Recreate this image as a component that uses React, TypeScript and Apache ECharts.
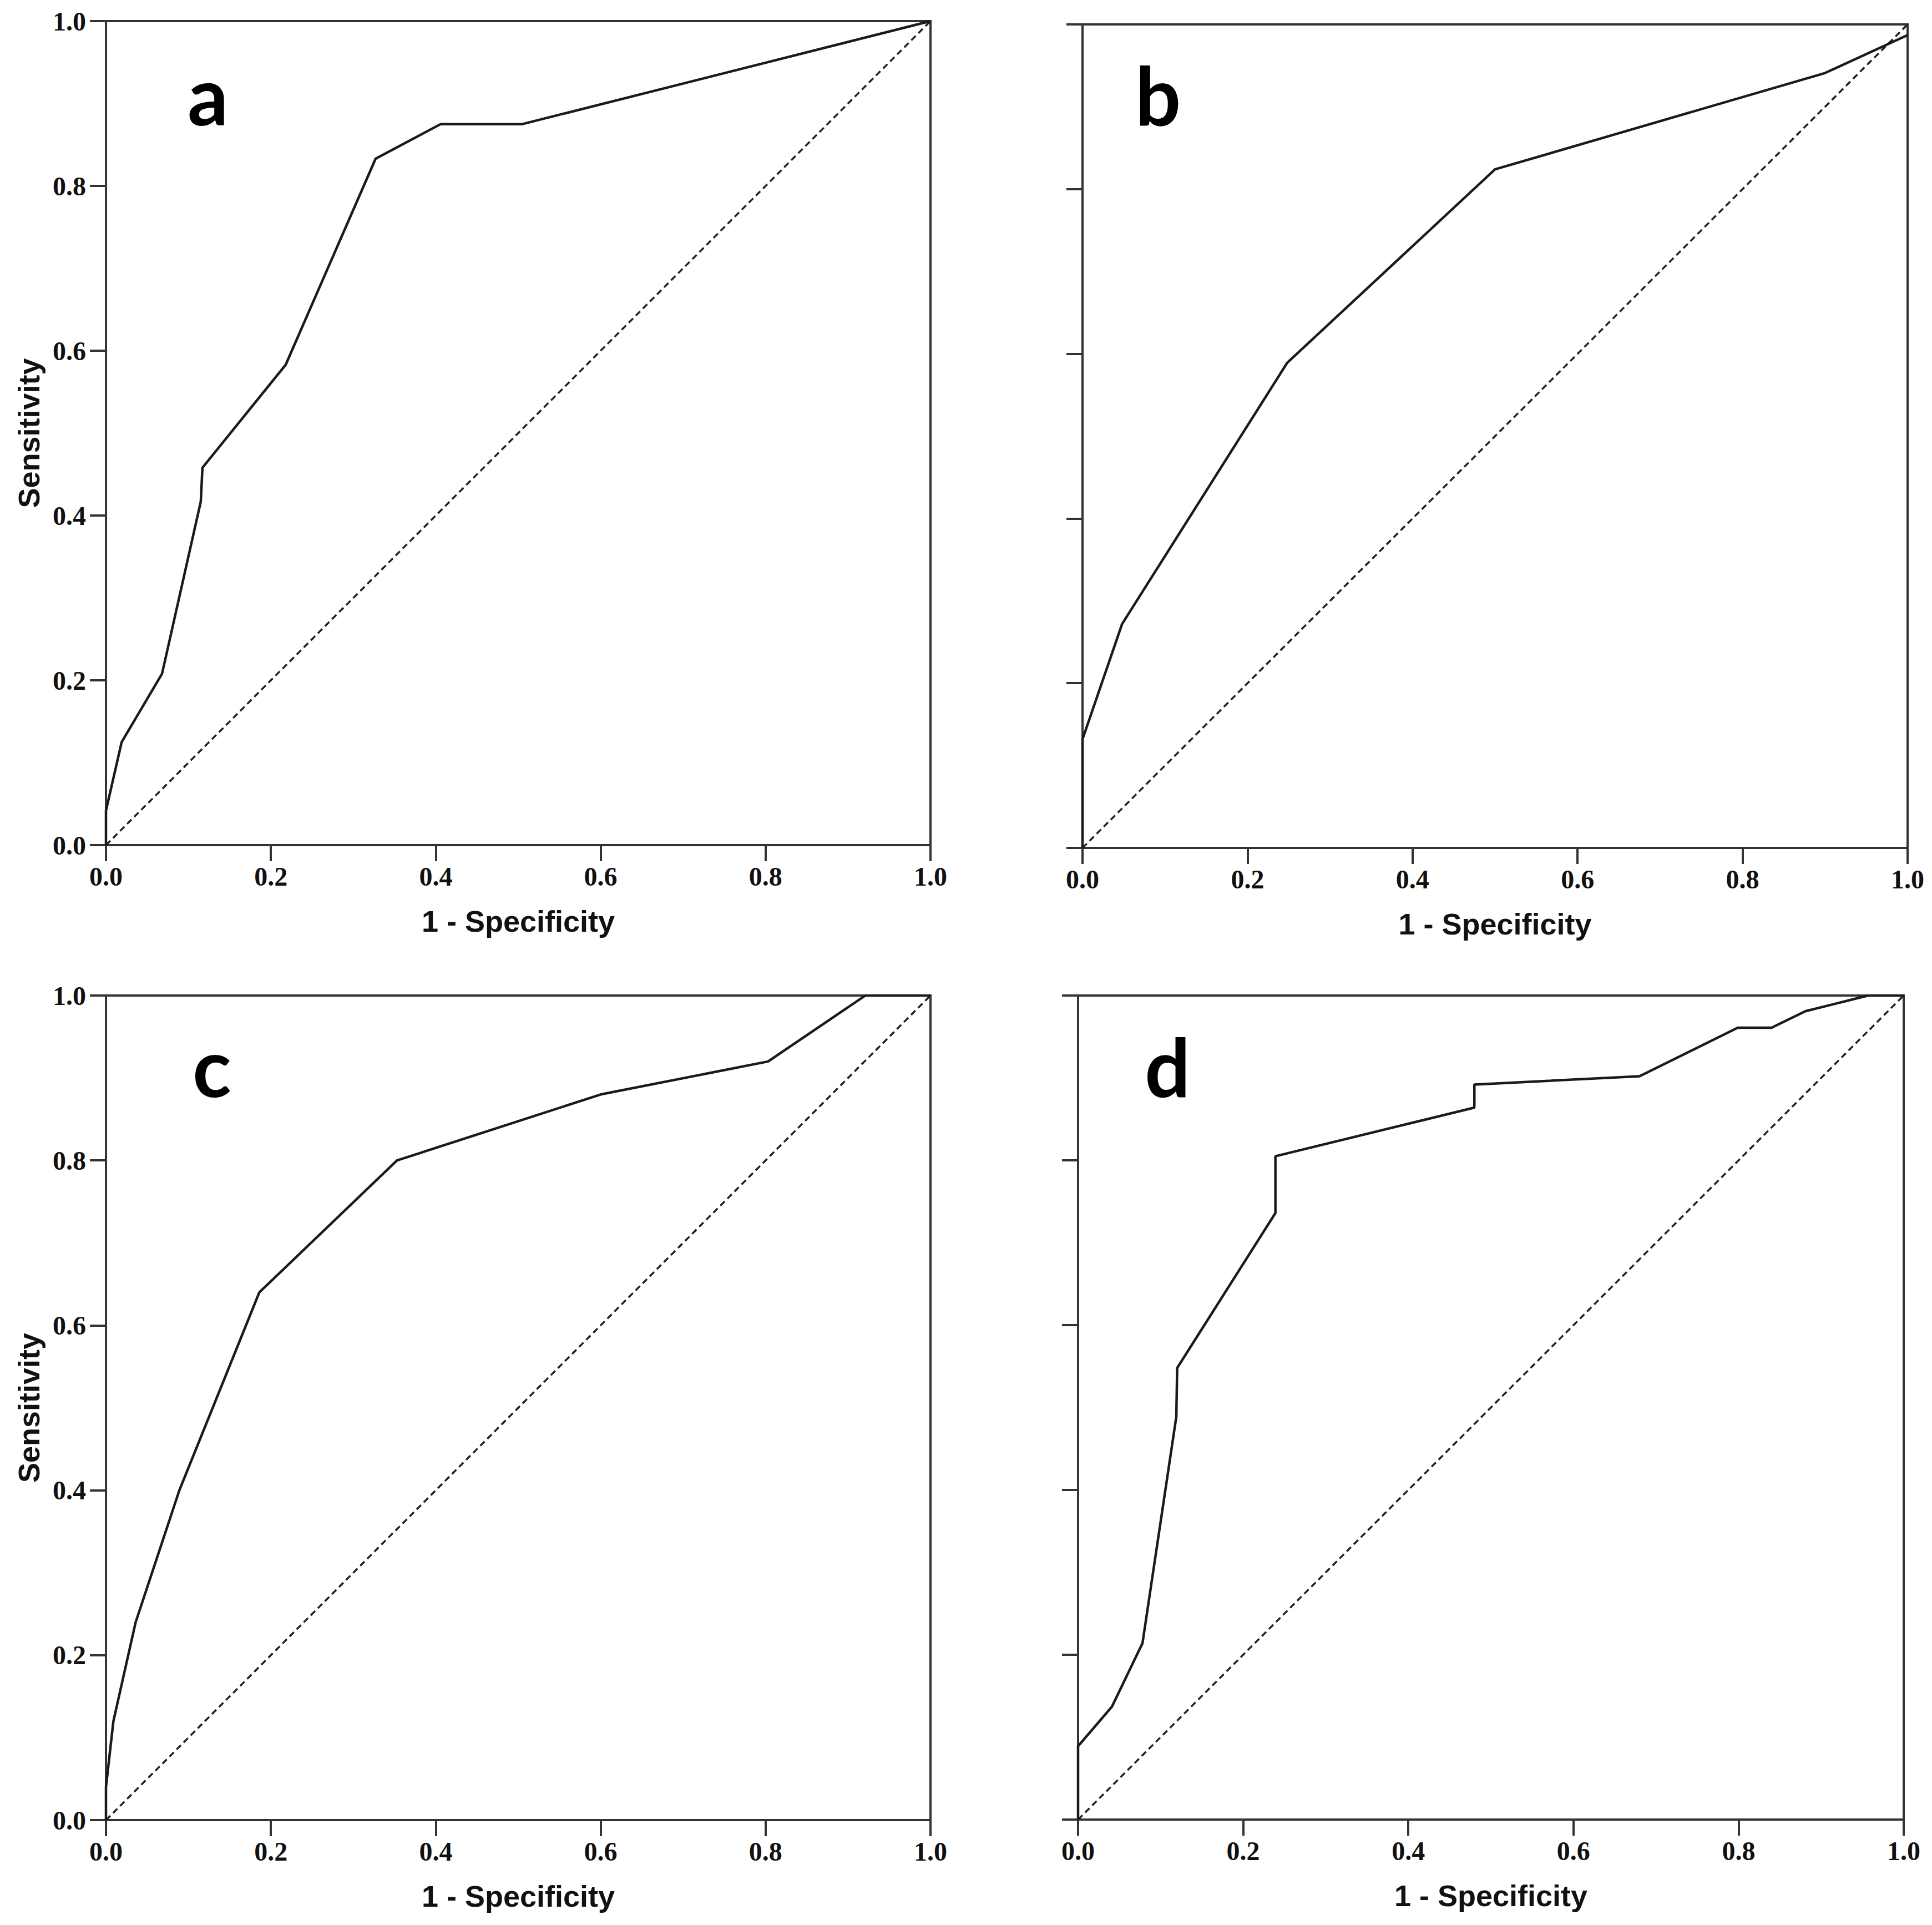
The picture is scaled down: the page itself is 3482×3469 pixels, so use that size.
import React, { useEffect, useRef } from "react";
import * as echarts from "echarts";

// ROC curve data: [1 - specificity, sensitivity]
const rocA: [number, number][] = [
  [0, 0], [0, 0.042], [0.019, 0.125], [0.068, 0.208], [0.115, 0.417], [0.117, 0.458],
  [0.218, 0.583], [0.327, 0.833], [0.406, 0.875], [0.505, 0.875], [1, 1],
];
const rocB: [number, number][] = [
  [0, 0], [0, 0.132], [0.048, 0.272], [0.248, 0.589], [0.5, 0.824], [0.9, 0.941], [1, 0.987],
];
const rocC: [number, number][] = [
  [0, 0], [0, 0.04], [0.009, 0.12], [0.036, 0.24], [0.089, 0.4], [0.186, 0.64],
  [0.353, 0.8], [0.6, 0.88], [0.803, 0.92], [0.921, 1], [1, 1],
];
const rocD: [number, number][] = [
  [0, 0], [0, 0.089], [0.041, 0.137], [0.078, 0.214], [0.119, 0.489], [0.12, 0.548],
  [0.239, 0.736], [0.239, 0.805], [0.48, 0.864], [0.48, 0.892], [0.68, 0.902],
  [0.799, 0.961], [0.84, 0.961], [0.881, 0.981], [0.957, 1], [1, 1],
];
const reference: [number, number][] = [[0, 0], [1, 1]];
const panelLetters = ["a", "b", "c", "d"];
const xTitle = "1 - Specificity";
const yTitle = "Sensitivity";
const tickStep = 0.2;

const AXIS_COLOR = "#333333";
const LINE_COLOR = "#1a1a1a";

const grids = [
  { left: 191, top: 38, width: 1486, height: 1485 },
  { left: 1951, top: 44, width: 1487, height: 1484 },
  { left: 191, top: 1794, width: 1486, height: 1486 },
  { left: 1943, top: 1794, width: 1488, height: 1485 },
];
const letterPos = [
  { x: 338, y: 170 },
  { x: 2046, y: 170 },
  { x: 347, y: 1921 },
  { x: 2063, y: 1921 },
];
const showYLabels = [true, false, true, false];

export default function App() {
  const ref = useRef<HTMLDivElement>(null);
  useEffect(() => {
    if (!ref.current) return;
    const chart = echarts.init(ref.current, undefined, { renderer: "svg" });
    const curves = [rocA, rocB, rocC, rocD];
    const tickLabel = {
      fontFamily: "Liberation Serif",
      fontWeight: "bold" as const,
      fontSize: 48,
      color: "#111111",
      formatter: (v: number) => v.toFixed(1),
    };
    const nameStyle = {
      fontFamily: "Liberation Sans",
      fontWeight: "bold" as const,
      fontSize: 54,
      color: "#111111",
    };
    const axisLine = { show: true, lineStyle: { color: AXIS_COLOR, width: 4 } };
    const axisTick = { show: true, inside: false, length: 29, lineStyle: { color: AXIS_COLOR, width: 4 } };

    const option: any = {
      animation: false,
      backgroundColor: "#ffffff",
      grid: grids.map((g) => ({
        ...g,
        show: true,
        borderColor: AXIS_COLOR,
        borderWidth: 4,
        backgroundColor: "transparent",
        containLabel: false,
      })),
      xAxis: grids.map((_, i) => ({
        type: "value",
        gridIndex: i,
        min: 0,
        max: 1,
        interval: tickStep,
        name: xTitle,
        nameLocation: "middle",
        nameGap: 110,
        nameTextStyle: nameStyle,
        axisLine,
        axisTick,
        splitLine: { show: false },
        axisLabel: { ...tickLabel, margin: 32, showMinLabel: true, showMaxLabel: true },
      })),
      yAxis: grids.map((_, i) => ({
        type: "value",
        gridIndex: i,
        min: 0,
        max: 1,
        interval: tickStep,
        name: showYLabels[i] ? yTitle : "",
        nameLocation: "middle",
        nameGap: 112,
        nameTextStyle: nameStyle,
        axisLine,
        axisTick,
        splitLine: { show: false },
        axisLabel: { ...tickLabel, margin: 36, show: showYLabels[i] },
      })),
      series: [
        ...curves.map((c, i) => ({
          type: "line",
          xAxisIndex: i,
          yAxisIndex: i,
          data: c,
          symbol: "none",
          lineStyle: { color: LINE_COLOR, width: 4.5 },
          z: 3,
        })),
        ...curves.map((_, i) => ({
          type: "line",
          xAxisIndex: i,
          yAxisIndex: i,
          data: reference,
          symbol: "none",
          lineStyle: { color: "#222222", width: 3.5, type: [11, 7] },
          z: 2,
        })),
      ],
      graphic: panelLetters.map((l, i) => ({
        type: "text",
        x: letterPos[i].x,
        y: letterPos[i].y,
        style: {
          text: l,
          fill: "#000000",
          font: "bold 145px Lato",
          align: "left",
          verticalAlign: "middle",
        },
        z: 10,
      })),
    };
    chart.setOption(option);
    return () => chart.dispose();
  }, []);
  return (
    <div
      ref={ref}
      style={{ position: "absolute", left: 0, top: 0, width: 3482, height: 3469, background: "#fff" }}
    />
  );
}
